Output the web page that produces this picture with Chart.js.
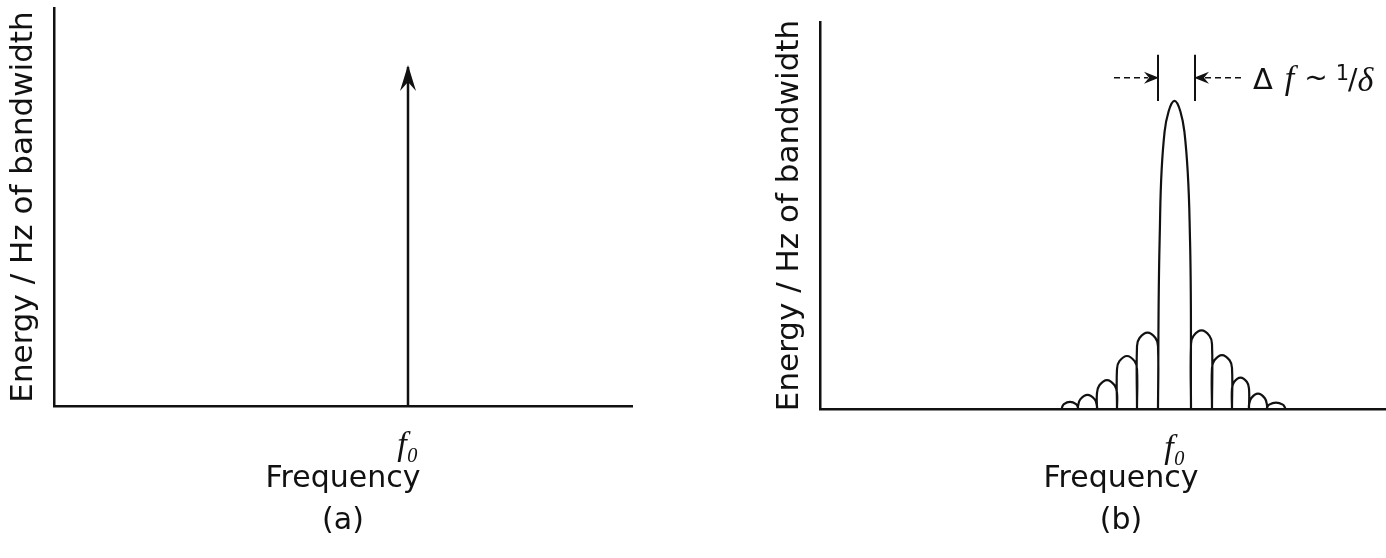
<!DOCTYPE html>
<html>
<head>
<meta charset="utf-8">
<script src="https://cdn.jsdelivr.net/npm/chart.js@4.4.0/dist/chart.umd.min.js"></script>
<style>
  html, body { margin: 0; padding: 0; background: #fff; overflow: hidden; width: 1386px; height: 558px; }
  .panel { position: absolute; top: 0; height: 558px; }
  #panelA { left: 0; width: 650px; }
  #panelB { left: 766px; width: 656px; }
</style>
</head>
<body>
<div class="panel" id="panelA"><canvas id="chartA"></canvas></div>
<div class="panel" id="panelB"><canvas id="chartB"></canvas></div>
<script>
// --- data (frequency in units of ~1/delta, f0 = 0; energy with main peak = 100) ---
const lineFreq = [0, 0];            // (a) single spectral line at f0
const lineEnergy = [0, 100];
const lobeEdges = [-5.65, -4.85, -3.9, -2.9, -1.9, -0.85, 0.8, 1.85, 2.85, 3.7, 4.6, 5.5];
const lobePeaks = [2.3, 4.6, 9.4, 17.2, 24.8, 100, 25.5, 17.5, 10.2, 5, 2.1];
const deltaMarks = [-0.85, 1.0];    // the two bars of the delta f marker
const deltaLevel = [100, 115];      // bottom / top of those bars
const tickLabels = ['f\u2080'];
const yTitle = 'Energy / Hz of bandwidth';
const xTitle = 'Frequency';
const panelTags = ['(a)', '(b)'];

const INK = '#111';
const FONT = "'DejaVu Sans', sans-serif";

// points of panel (a)
const linePoints = lineFreq.map((f, i) => ({ x: f, y: lineEnergy[i] }));

// outline of panel (b): side lobes are arches (straight sides, round top),
// the main lobe tapers towards its peak
const mainPeak = Math.max(...lobePeaks);
const lobePoints = [];
for (let i = 0; i < lobePeaks.length; i++) {
    const x0 = lobeEdges[i], x1 = lobeEdges[i + 1], h = lobePeaks[i];
    const w = x1 - x0, xm = (x0 + x1) / 2;
    if (h === mainPeak) {
        lobePoints.push(
            { x: x0, y: 0 }, { x: x0 + w * 0.05, y: h * 0.55 }, { x: x0 + w * 0.2, y: h * 0.9 },
            { x: xm, y: h },
            { x: x1 - w * 0.2, y: h * 0.9 }, { x: x1 - w * 0.03, y: h * 0.55 }, { x: x1, y: 0 }
        );
    } else {
        const r = Math.min(4.2 * w, h * 0.8);   // height of the rounded cap
        lobePoints.push(
            { x: x0, y: 0 }, { x: x0, y: h - r }, { x: x0 + w * 0.12, y: h - r * 0.4 },
            { x: xm, y: h },
            { x: x1 - w * 0.12, y: h - r * 0.4 }, { x: x1, y: h - r }, { x: x1, y: 0 }
        );
    }
}

function baseOptions(xMin, xMax, yMax, tag, pad, areaBottom) {
    return {
        responsive: true,
        maintainAspectRatio: false,
        animation: false,
        layout: { padding: pad },
        plugins: { legend: { display: false }, tooltip: { enabled: false } },
        scales: {
            x: {
                type: 'linear', min: xMin, max: xMax,
                grid: { display: false, drawTicks: false },
                border: { display: true, color: INK, width: 2.5 },
                afterBuildTicks: s => { s.ticks = [{ value: 0 }]; },
                afterFit: s => { s.height = 558 - areaBottom; },
                ticks: {
                    color: INK, padding: 20,
                    font: { family: "'Liberation Serif', 'DejaVu Serif', serif", style: 'italic', size: 34 },
                    callback: () => tickLabels[0]
                },
                title: {
                    display: true, text: [xTitle, tag], color: INK,
                    font: { family: FONT, size: 30, lineHeight: 1.42 },
                    padding: { top: 0, bottom: 15 }
                }
            },
            y: {
                min: 0, max: yMax,
                grid: { display: false, drawTicks: false },
                border: { display: true, color: INK, width: 2.5 },
                ticks: { display: false },
                afterFit: s => { s.width = 54; },
                title: {
                    display: true, text: yTitle, color: INK,
                    font: { family: FONT, size: 31, lineHeight: 1.2 },
                    padding: { top: 5, bottom: 0 }
                }
            }
        }
    };
}

// arrowhead on top of the spectral line in (a)
const arrowHead = {
    id: 'arrowHead',
    afterDatasetsDraw(chart) {
        const pts = chart.getDatasetMeta(0).data;
        const tip = pts[pts.length - 1];
        const ctx = chart.ctx;
        ctx.save();
        ctx.fillStyle = INK;
        ctx.beginPath();
        ctx.moveTo(tip.x, tip.y - 2);
        ctx.lineTo(tip.x - 8, tip.y + 24);
        ctx.lineTo(tip.x, tip.y + 15);
        ctx.lineTo(tip.x + 8, tip.y + 24);
        ctx.closePath();
        ctx.fill();
        ctx.restore();
    }
};

// delta f marker over the main lobe of (b)
const deltaMarker = {
    id: 'deltaMarker',
    afterDatasetsDraw(chart) {
        const { ctx, scales: { x, y } } = chart;
        const xl = x.getPixelForValue(deltaMarks[0]);
        const xr = x.getPixelForValue(deltaMarks[1]);
        const yb = y.getPixelForValue(deltaLevel[0]);
        const yt = y.getPixelForValue(deltaLevel[1]);
        const ym = (yb + yt) / 2;
        ctx.save();
        ctx.strokeStyle = INK;
        ctx.fillStyle = INK;
        ctx.lineWidth = 2;
        [xl, xr].forEach(px => {
            ctx.beginPath(); ctx.moveTo(px, yb); ctx.lineTo(px, yt); ctx.stroke();
        });
        ctx.lineWidth = 1.5;
        ctx.setLineDash([6, 4]);
        ctx.beginPath(); ctx.moveTo(xl - 44, ym); ctx.lineTo(xl - 10, ym); ctx.stroke();
        ctx.beginPath(); ctx.moveTo(xr + 10, ym); ctx.lineTo(xr + 46, ym); ctx.stroke();
        ctx.setLineDash([]);
        // heads
        [[xl, -1], [xr, 1]].forEach(([px, d]) => {
            ctx.beginPath();
            ctx.moveTo(px - d * 1, ym);
            ctx.lineTo(px + d * 14, ym - 6);
            ctx.lineTo(px + d * 9, ym);
            ctx.lineTo(px + d * 14, ym + 6);
            ctx.closePath();
            ctx.fill();
        });
        // label
        let tx = xr + 58;
        const base = ym + 11;
        ctx.textBaseline = 'alphabetic';
        ctx.font = '29px ' + FONT;
        ctx.fillText('\u0394', tx, base);
        tx += ctx.measureText('\u0394').width + 12;
        ctx.font = "italic 34px 'Liberation Serif', serif";
        ctx.fillText('f', tx, base);
        tx += ctx.measureText('f').width + 10;
        ctx.font = '28px ' + FONT;
        ctx.fillText('~', tx, base - 2);
        tx += ctx.measureText('~').width + 8;
        ctx.font = '21px ' + FONT;
        ctx.fillText('1', tx, base - 9);
        tx += ctx.measureText('1').width - 1;
        ctx.font = '28px ' + FONT;
        ctx.fillText('/', tx, base);
        tx += ctx.measureText('/').width;
        ctx.font = "italic 34px 'Liberation Serif', serif";
        ctx.fillText('\u03b4', tx, base + 2);
        ctx.restore();
    }
};

// panel (a)
new Chart(document.getElementById('chartA'), {
    type: 'line',
    data: {
        datasets: [{
            data: linePoints,
            borderColor: INK, borderWidth: 2.5,
            pointRadius: 0, tension: 0
        }]
    },
    options: baseOptions(-17.7, 11.2, 117.4, panelTags[0], { top: 8, right: 18, bottom: 0, left: 0 }, 406),
    plugins: [arrowHead]
});

// panel (b)
new Chart(document.getElementById('chartB'), {
    type: 'line',
    data: {
        datasets: [{
            data: lobePoints,
            borderColor: INK, borderWidth: 2.2,
            pointRadius: 0, tension: 0.4
        }]
    },
    options: baseOptions(-17.75, 12.35, 125.6, panelTags[1], { top: 22, right: 0, bottom: 0, left: 0 }, 409),
    plugins: [deltaMarker]
});
</script>
</body>
</html>
